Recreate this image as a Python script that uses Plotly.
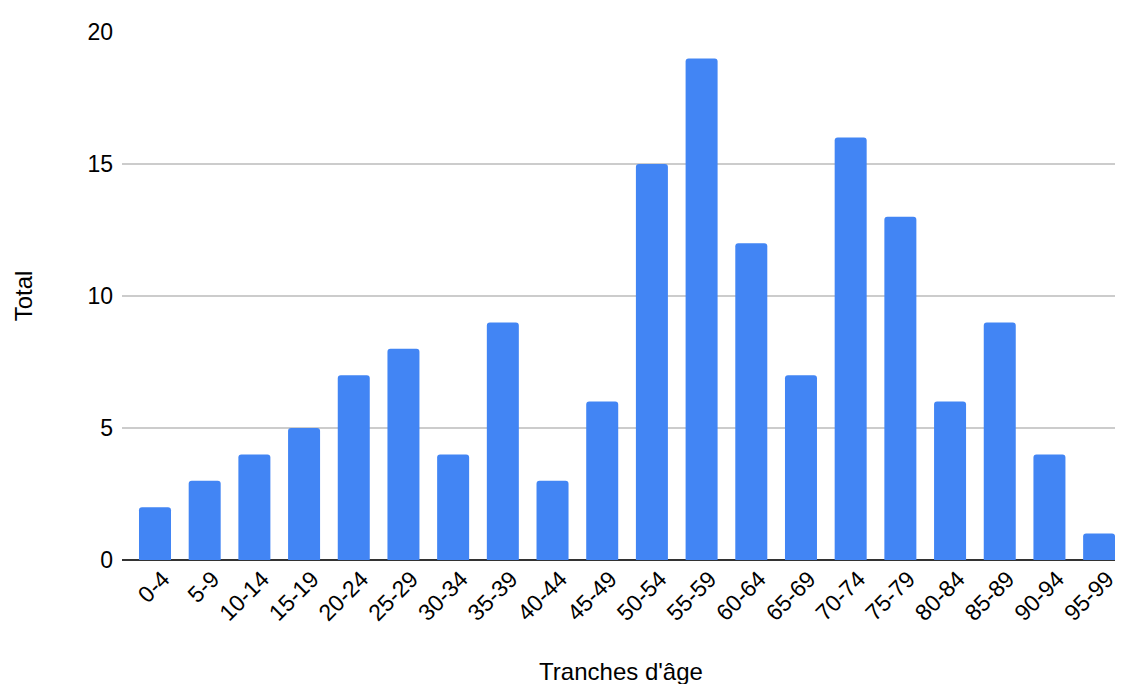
import plotly.graph_objects as go

categories = ["0-4", "5-9", "10-14", "15-19", "20-24", "25-29", "30-34", "35-39", "40-44", "45-49",
              "50-54", "55-59", "60-64", "65-69", "70-74", "75-79", "80-84", "85-89", "90-94", "95-99"]
totals = [2, 3, 4, 5, 7, 8, 4, 9, 3, 6, 15, 19, 12, 7, 16, 13, 6, 9, 4, 1]
y_ticks = [0, 5, 10, 15, 20]

FONT = "Liberation Sans, Arial, sans-serif"

fig = go.Figure(go.Bar(
    x=list(range(len(categories))), y=totals,
    marker=dict(color="#4285F4", line=dict(width=0)),
    width=0.644,
))

fig.update_layout(
    width=1123, height=684,
    margin=dict(l=114, r=11, t=18, b=132),
    paper_bgcolor="white", plot_bgcolor="white",
    font=dict(family=FONT, size=23, color="#000"),
    barcornerradius=3,
    showlegend=False,
    xaxis=dict(
        tickmode="array", tickvals=list(range(len(categories))), ticktext=categories,
        range=[-0.664, 19.42], tickangle=-45, showgrid=False, zeroline=False,
        showline=False, ticks="", tickfont=dict(size=23), ticklabelshift=8,
        title=dict(text="Tranches d'âge", font=dict(size=24), standoff=38),
    ),
    yaxis=dict(
        range=[0, 20], tickvals=y_ticks, showgrid=True, gridcolor="#cccccc", gridwidth=1.5,
        zeroline=True, zerolinecolor="#333333", zerolinewidth=1.5,
        showline=False, ticks="", ticklabelstandoff=8, tickfont=dict(size=23),
        title=dict(text="Total", font=dict(size=24), standoff=48),
    ),
)

fig.write_html("out.html")
